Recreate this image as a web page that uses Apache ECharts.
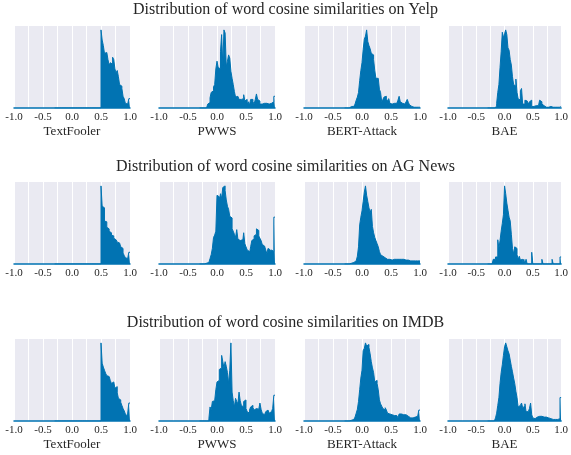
<!DOCTYPE html>
<html>
<head>
<meta charset="utf-8">
<script src="https://cdn.jsdelivr.net/npm/echarts@6/dist/echarts.min.js"></script>
<style>html,body{margin:0;padding:0;background:#fff}#c{width:571px;height:455px}</style>
</head>
<body>
<div id="c"></div>
<script>
// Bin left edges start at BIN_START, each BIN_WIDTH wide (65 bins: -0.30 .. 0.98)
const BIN_START = -0.30;
const BIN_WIDTH = 0.02;

const rowTitles = [
  'Distribution of word cosine similarities on Yelp',
  'Distribution of word cosine similarities on AG News',
  'Distribution of word cosine similarities on IMDB'
];
const attackNames = ['TextFooler', 'PWWS', 'BERT-Attack', 'BAE'];
const showNames = [true, false, true];
const tickLabels = ['-1.0', '-0.5', '0.0', '0.5', '1.0'];

// ---- Yelp ----
const yelpTextFooler = [
  0,0,0,0,0, 0,0,0,0,0, 0,0,0,0,0, 0,0,0,0,0,
  0,0,0,0,0, 0,0,0,0,0, 0,0,0,0,0, 0,0,0,0,0,
  100,87,80,70,71, 72,62,55,58,56, 65,62,50,45,48, 40,30,28,25,15, 12,6,5,6,12
];
const yelpPWWS = [
  0,0,0,0,0, 0,0,5,7,13, 20,22,27,30,50, 60,52,50,72,94,
  55,100,96,53,60, 68,64,47,38,30, 21,14,15,13,11, 11,9,12,17,9,
  11,5,8,4,11, 11,8,5,11,18, 11,9,5,5,6, 6,5,6,6,5, 6,6,5,8,15
];
const yelpBERT = [
  0,0,0,0,2, 2,2,2,3,5, 10,14,20,35,48, 58,75,88,92,100,
  85,80,76,70,68, 62,48,38,38,36, 24,20,8,11,14, 15,11,9,12,6,
  5,6,6,7,6, 8,10,15,8,6, 4,5,5,8,11, 7,4,2,1,1, 1,1,1,1,1
];
const yelpBAE = [
  0,0,0,0,0, 0,1,2,6,20, 30,52,72,97,90, 95,100,94,77,74,
  62,55,40,30,28, 37,20,12,10,22, 25,5,5,10,9, 7,5,8,10,2,
  2,2,3,3,3, 3,10,8,5,3, 2,1,3,1,3, 2,3,1,2,1, 1,1,1,1,2
];

// ---- AG News ----
const agTextFooler = [
  0,0,0,0,0, 0,0,0,0,0, 0,0,0,0,0, 0,0,0,0,0,
  0,0,0,0,0, 0,0,0,0,0, 0,0,0,0,0, 0,0,0,0,0,
  100,74,72,55,54, 47,45,42,40,37, 36,33,31,30,28, 27,25,22,20,14, 11,8,7,9,15
];
const agPWWS = [
  0,0,0,0,0, 1,2,2,4,7, 12,20,34,37,42, 88,86,80,90,84,
  98,100,94,82,74, 70,61,59,45,42, 38,34,44,32,30, 28,31,27,40,26,
  22,18,16,13,22, 30,32,36,38,45, 43,36,33,30,25, 23,24,18,13,20, 18,14,18,16,60
];
const agBERT = [
  0,0,0,0,1, 1,2,2,3,4, 6,10,22,50,60, 68,80,92,100,88,
  80,72,66,70,48, 40,34,30,26,22, 16,12,10,9,8, 7,6,7,6,6,
  5,5,6,5,6, 7,6,7,6,7, 6,7,5,6,5, 4,4,4,4,4, 4,4,4,4,4
];
const agBAE = [
  0,0,0,0,0, 6,6,9,9,31, 20,30,42,52,63, 100,90,78,69,60,
  55,38,20,13,22, 20,12,6,10,5, 6,0,6,0,6, 0,0,0,0,15,
  0,0,0,0,0, 0,0,0,6,0, 0,0,0,0,0, 0,0,6,0,0, 0,0,0,0,9
];

// ---- IMDB ----
const imdbTextFooler = [
  0,0,0,0,0, 0,0,0,0,0, 0,0,0,0,0, 0,0,0,0,0,
  0,0,0,0,0, 0,0,0,0,0, 0,0,0,0,0, 0,0,0,0,0,
  100,74,69,65,61, 58,57,59,52,48, 50,51,42,44,36, 29,27,24,20,16, 13,9,6,10,23
];
const imdbPWWS = [
  0,0,0,0,0, 0,0,0,3,18, 14,25,26,24,40, 50,52,66,68,84,
  76,68,76,70,62, 48,65,100,37,26, 18,29,25,22,37, 26,20,18,25,27,
  16,12,10,14,18, 20,17,14,16,18, 15,17,23,15,10, 8,9,12,14,12, 10,12,14,16,33
];
const imdbBERT = [
  0,0,0,0,1, 1,2,2,3,5, 10,15,25,40,55, 65,90,93,100,96,
  98,94,86,76,68, 62,50,52,48,40, 27,22,19,16,14, 17,14,10,9,9,
  8,8,7,5,7, 8,4,9,9,8, 8,8,8,7,6, 5,4,5,4,4, 5,5,6,8,14
];
const imdbBAE = [
  0,0,0,0,0, 0,2,4,10,20, 30,48,62,72,84, 95,100,95,90,86,
  78,70,63,55,48, 38,30,18,20,20, 23,17,19,22,12, 12,14,16,23,8,
  4,3,4,5,5, 6,5,6,6,5, 5,5,4,4,3, 3,3,2,2,2, 2,2,2,3,30
];

const panels = [
  [yelpTextFooler, yelpPWWS, yelpBERT, yelpBAE],
  [agTextFooler, agPWWS, agBERT, agBAE],
  [imdbTextFooler, imdbPWWS, imdbBERT, imdbBAE]
];

const BLUE = '#0173B2';
const TEXT = '#262626';
const FONT = 'Liberation Serif';
const colLeft = [14, 159, 304, 448];
const rowTop = [26, 182, 339];
const gridW = 116, gridH = 82;
const titleTop = [2, 159, 315];

function stepData(vals) {
  const d = vals.map((v, i) => [BIN_START + i * BIN_WIDTH, v]);
  d.push([BIN_START + vals.length * BIN_WIDTH, vals[vals.length - 1]]);
  return d;
}

const grids = [], xAxes = [], yAxes = [], series = [], titles = [];
rowTitles.forEach((t, r) => {
  titles.push({
    text: t, left: 'center', top: titleTop[r], padding: 0,
    textStyle: { fontFamily: FONT, fontSize: 16, fontWeight: 'normal', color: TEXT }
  });
});
let idx = 0;
for (let r = 0; r < 3; r++) {
  for (let c = 0; c < 4; c++) {
    grids.push({
      left: colLeft[c], top: rowTop[r], width: gridW, height: gridH,
      show: true, backgroundColor: '#EAEAF2', borderWidth: 0, containLabel: false
    });
    xAxes.push({
      type: 'value', gridIndex: idx, min: -1, max: 1, interval: 0.25,
      name: showNames[r] ? attackNames[c] : '', nameLocation: 'middle', nameGap: 17,
      nameTextStyle: { fontFamily: FONT, fontSize: 13, color: TEXT },
      axisLine: { show: true, lineStyle: { color: BLUE, width: 1.5 } },
      axisTick: { show: false },
      axisLabel: {
        fontFamily: FONT, fontSize: 11, color: TEXT, margin: 4,
        formatter: v => {
          const k = Math.round((v + 1) * 2);
          return Math.abs((v + 1) * 2 - k) < 1e-6 ? tickLabels[k] : '';
        }
      },
      splitLine: { show: true, lineStyle: { color: '#ffffff', width: 1 } }
    });
    yAxes.push({
      type: 'value', gridIndex: idx, min: 0, max: v => v.max * 1.05,
      show: false, splitLine: { show: false }
    });
    series.push({
      type: 'line', xAxisIndex: idx, yAxisIndex: idx, step: 'end',
      symbol: 'none', silent: true, animation: false,
      lineStyle: { color: BLUE, width: 1 },
      areaStyle: { color: BLUE, opacity: 1 },
      data: stepData(panels[r][c])
    });
    idx++;
  }
}

const chart = echarts.init(document.getElementById('c'), null, { renderer: 'canvas' });
chart.setOption({
  animation: false,
  backgroundColor: '#ffffff',
  title: titles,
  grid: grids,
  xAxis: xAxes,
  yAxis: yAxes,
  series: series
});
</script>
</body>
</html>
